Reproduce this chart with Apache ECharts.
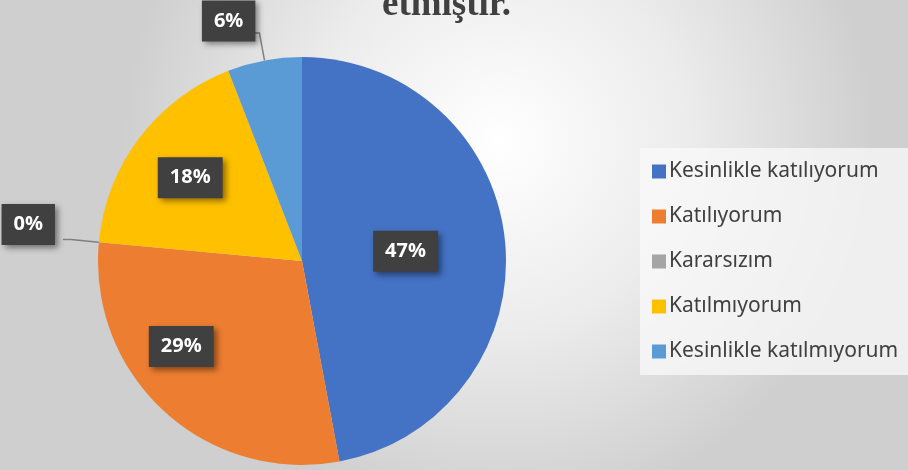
<!DOCTYPE html>
<html>
<head>
<meta charset="utf-8">
<script src="https://cdn.jsdelivr.net/npm/echarts@6/dist/echarts.min.js"></script>
<style>
html,body{margin:0;padding:0;}
#main{width:908px;height:470px;}
</style>
</head>
<body>
<div id="main"></div>
<script>
// answers (respondent counts, read from the % labels)
var categories = ['Kesinlikle katılıyorum', 'Katılıyorum', 'Kararsızım', 'Katılmıyorum', 'Kesinlikle katılmıyorum'];
var counts = [8, 5, 0, 3, 1];
var colors = ['#4472C4', '#ED7D31', '#A5A5A5', '#FFC000', '#5B9BD5'];
// label nudges, Excel puts them a bit off the default spots
var labelShift = [[-1, 0], [-50, 8], [-3, -15], [-28, -20], [9, -12]];

var pieData = [];
for (var i = 0; i < categories.length; i++) {
	var item = { name: categories[i], value: counts[i], itemStyle: { color: colors[i] } };
	if (i == 2 || i == 4) {
		item.label = { position: 'outside' };
		item.labelLine = { show: true };
	}
	pieData.push(item);
}

var myChart = echarts.init(document.getElementById('main'));
var option = {
	backgroundColor: {
		type: 'radial', x: 0.55, y: 0.3, r: 0.8,
		colorStops: [
			{ offset: 0, color: '#ffffff' },
			{ offset: 0.5, color: '#ececec' },
			{ offset: 1, color: '#cfcfcf' }
		]
	},
	title: {
		text: 'etmiştir.',
		left: 377,
		top: -18,
		textStyle: { fontFamily: 'Liberation Serif', fontWeight: 'bold', fontSize: 37, color: '#404040' }
	},
	legend: {
		orient: 'vertical',
		left: 640,
		top: 148,
		padding: [13, 40, 13, 12],
		backgroundColor: 'rgba(250,250,250,0.75)',
		itemWidth: 14,
		itemHeight: 14,
		itemGap: 24,
		icon: 'rect',
		textStyle: { fontFamily: 'Noto Sans', fontSize: 21, color: '#404040', padding: [0, 0, 0, -2] },
		data: categories
	},
	series: [{
		type: 'pie',
		center: [302, 261],
		radius: 204,
		startAngle: 90,
		clockwise: true,
		avoidLabelOverlap: false,
		percentPrecision: 0,
		silent: true,
		label: {
			show: true,
			position: 'inside',
			formatter: '{d}%',
			fontFamily: 'Open Sans',
			fontWeight: 'bold',
			fontSize: 20,
			color: '#ffffff',
			backgroundColor: '#404040',
			padding: [11, 12, 10, 12],
			shadowColor: 'rgba(0,0,0,0.45)',
			shadowBlur: 6,
			shadowOffsetX: 3,
			shadowOffsetY: 3
		},
		labelLine: {
			show: false,
			length: 28,
			length2: 8,
			lineStyle: { color: '#7f7f7f', width: 1.5 }
		},
		labelLayout: function (params) {
			var s = labelShift[params.dataIndex];
			return { dx: s[0], dy: s[1] };
		},
		data: pieData
	}]
};
myChart.setOption(option);
</script>
</body>
</html>
